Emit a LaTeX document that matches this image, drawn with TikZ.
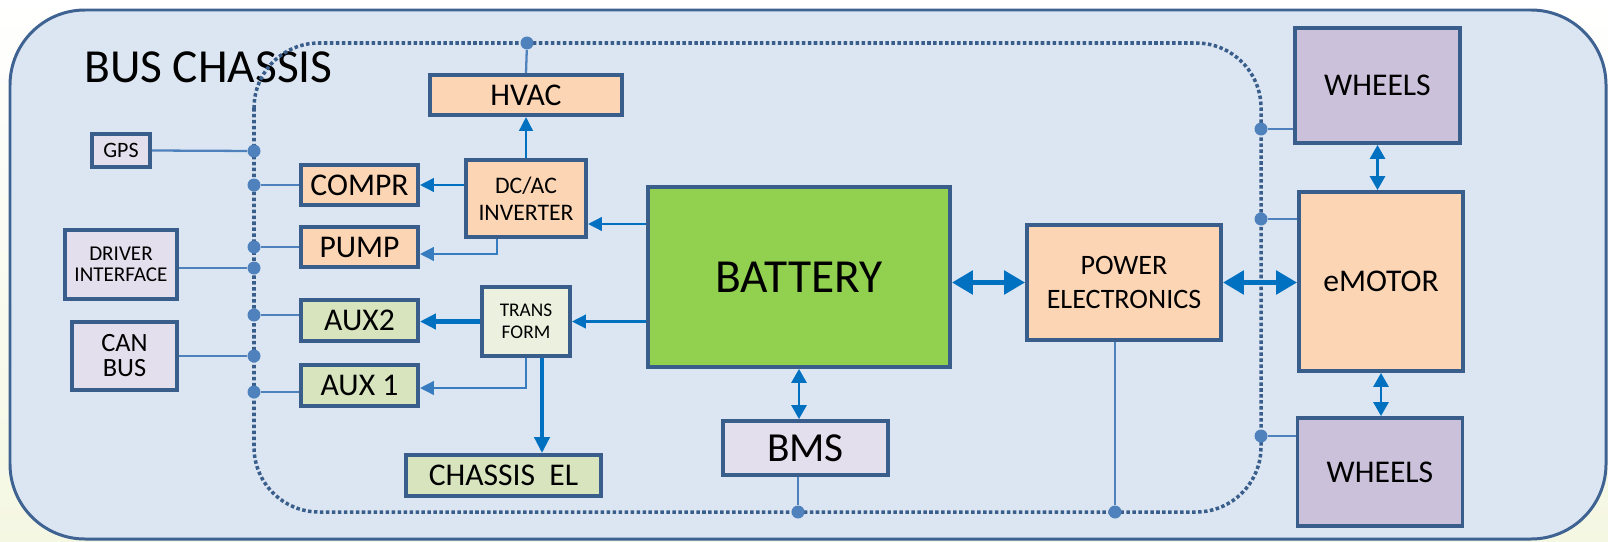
\documentclass[tikz,border=0pt]{standalone}
\usepackage{fontspec}
\setmainfont{Carlito}
\usetikzlibrary{positioning, calc, arrows.meta}
\definecolor{chassisfill}{RGB}{220,230,242}
\definecolor{chassisline}{RGB}{62,98,146}
\definecolor{boxline}{RGB}{58,94,140}
\definecolor{peach}{RGB}{252,213,181}
\definecolor{auxgreen}{RGB}{215,228,189}
\definecolor{palegreen}{RGB}{235,241,222}
\definecolor{battgreen}{RGB}{146,208,80}
\definecolor{lilac}{RGB}{228,223,236}
\definecolor{wheelpurple}{RGB}{204,193,218}
\definecolor{arrowblue}{RGB}{0,112,192}
\definecolor{tapblue}{RGB}{79,129,189}
\definecolor{cornertint}{RGB}{244,247,226}

\begin{document}
\begin{tikzpicture}[x=0.02cm, y=-0.02cm,
    blk/.style={draw=boxline, line width=2.2pt, inner sep=0pt, align=center},
    peachbox/.style={blk, fill=peach},
    greenbox/.style={blk, fill=auxgreen},
    lilacbox/.style={blk, fill=lilac},
    wheelbox/.style={blk, fill=wheelpurple, minimum width=3.3cm},
    bigtext/.style={font=\fontsize{18}{21}\selectfont},
    bus/.style={draw=boxline, line width=2pt, dash pattern=on 2pt off 1.4pt, rounded corners=1.3cm},
    link/.style={draw=tapblue, line width=1.3pt},
    tap/.style={circle, fill=tapblue, inner sep=0pt, minimum size=0.26cm},
    flow/.style={draw=arrowblue, line width=1.5pt, -{Triangle[length=0.28cm, width=0.27cm]}},
    softflow/.style={flow, draw=tapblue!70!arrowblue},
    bigflow/.style={draw=arrowblue, line width=2.3pt, -{Triangle[length=0.32cm, width=0.3cm]}},
    twoway/.style={draw=arrowblue, line width=1.6pt, {Triangle[length=0.28cm, width=0.3cm]}-{Triangle[length=0.28cm, width=0.3cm]}},
    bigtwoway/.style={draw=arrowblue, line width=3pt, {Triangle[length=0.42cm, width=0.46cm]}-{Triangle[length=0.42cm, width=0.46cm]}}]
  \useasboundingbox (0,0) rectangle (1608,541);
  \shade[top color=white, bottom color=cornertint] (0,0) rectangle (1608,541);

  % chassis
  \draw[chassisline, line width=1.7pt, fill=chassisfill, rounded corners=1.5cm] (10,10) rectangle (1606,539);
  \node[anchor=base west, font=\fontsize{27}{32}\selectfont] (title) at (78,82) {BUS CHASSIS};

  % boxes
  \node[peachbox, bigtext, minimum width=3.84cm, minimum height=0.8cm] (hvac) at (526,95) {HVAC};
  \node[lilacbox, font=\fontsize{12.5}{15}\selectfont, minimum width=1.16cm, minimum height=0.66cm] (gps) at (121,150.5) {GPS};
  \node[peachbox, bigtext, minimum width=2.34cm, minimum height=0.8cm] (compr) at (359.5,185) {COMPR};
  \node[peachbox, font=\fontsize{13.5}{15.6}\selectfont, minimum width=2.4cm, minimum height=1.54cm] (inverter) at (526,198.5) {DC/AC\\INVERTER};
  \node[peachbox, bigtext, minimum width=2.34cm, minimum height=0.8cm] (pump) at (359.5,247) {PUMP};
  \node[lilacbox, font=\fontsize{12}{12}\selectfont, minimum width=2.24cm, minimum height=1.38cm] (driver) at (121,264.5) {DRIVER\\INTERFACE};
  \node[greenbox, bigtext, minimum width=2.34cm, minimum height=0.82cm] (aux2) at (359.5,320.5) {AUX2};
  \node[blk, fill=palegreen, font=\fontsize{11}{12.5}\selectfont, minimum width=1.76cm, minimum height=1.38cm] (transform) at (526,321.5) {TRANS\\FORM};
  \node[lilacbox, font=\fontsize{15}{14.2}\selectfont, minimum width=2.1cm, minimum height=1.36cm] (canbus) at (124.5,356) {CAN\\BUS};
  \node[greenbox, bigtext, minimum width=2.34cm, minimum height=0.82cm] (aux1) at (359.5,385.5) {AUX 1};
  \node[greenbox, bigtext, minimum width=3.9cm, minimum height=0.82cm] (chassisel) at (503.5,475.5) {CHASSIS~~EL};
  \node[blk, fill=battgreen, font=\fontsize{27}{32}\selectfont, minimum width=6.04cm, minimum height=3.6cm] (battery) at (799,277) {BATTERY};
  \node[lilacbox, font=\fontsize{23.5}{28}\selectfont, minimum width=3.3cm, minimum height=1.08cm] (bms) at (805.5,448) {BMS};
  \node[peachbox, font=\fontsize{16}{19.3}\selectfont, minimum width=3.88cm, minimum height=2.3cm] (powerel) at (1124,282.5) {POWER\\ELECTRONICS};
  \node[wheelbox, bigtext, minimum height=2.3cm] (wheelstop) at (1377.5,85.5) {WHEELS};
  \node[peachbox, bigtext, minimum width=3.28cm, minimum height=3.58cm] (emotor) at (1381,281.5) {eMOTOR};
  \node[wheelbox, bigtext, minimum height=2.16cm] (wheelsbot) at (1380,472) {WHEELS};

  % bus loop and taps
  \draw[bus] (254,43) rectangle (1261,512);
  \node[tap] (t-hvac) at (527,43) {};
  \node[tap] (t-gps) at (254,151) {};
  \node[tap] (t-compr) at (254,185) {};
  \node[tap] (t-pump) at (254,247) {};
  \node[tap] (t-driver) at (254,268) {};
  \node[tap] (t-aux2) at (254,315) {};
  \node[tap] (t-can) at (254,356) {};
  \node[tap] (t-aux1) at (254,392) {};
  \node[tap] (t-bms) at (798,512) {};
  \node[tap] (t-pe) at (1115,512) {};
  \node[tap] (t-wtop) at (1261,129) {};
  \node[tap] (t-motor) at (1261,219) {};
  \node[tap] (t-wbot) at (1261,436) {};

  \draw[link] (hvac.north) -- (t-hvac);
  \draw[link] (gps.east) -- (t-gps);
  \draw[link] (compr.west) -- (t-compr);
  \draw[link] (pump.west) -- (t-pump);
  \draw[link] (t-driver -| driver.east) -- (t-driver);
  \draw[link] (t-aux2 -| aux2.west) -- (t-aux2);
  \draw[link] (t-can -| canbus.east) -- (t-can);
  \draw[link] (t-aux1 -| aux1.west) -- (t-aux1);
  \draw[link] (t-bms |- bms.south) -- (t-bms);
  \draw[link] (t-pe |- powerel.south) -- (t-pe);
  \draw[link] (t-wtop -| wheelstop.west) -- (t-wtop);
  \draw[link] (t-motor -| emotor.west) -- (t-motor);
  \draw[link] (t-wbot -| wheelsbot.west) -- (t-wbot);

  % power flow
  \coordinate (inv-in) at ([yshift=-0.51cm]inverter.east);
  \coordinate (ce-out) at ([xshift=0.32cm]transform.south);
  \draw[flow] (inverter.west |- compr.east) -- (compr.east);
  \draw[flow] (inverter.north) -- (hvac.south);
  \draw[flow] (inv-in -| battery.west) -- (inv-in);
  \draw[flow] (battery.west |- transform.east) -- (transform.east);
  \draw[softflow] ([xshift=-0.58cm]inverter.south) |- ([yshift=-0.14cm]pump.east);
  \draw[bigflow] (transform.west) -- (transform.west -| aux2.east);
  \draw[softflow] (transform.south) |- ([yshift=-0.05cm]aux1.east);
  \draw[bigflow] (ce-out) -- (ce-out |- chassisel.north);
  \draw[bigtwoway] (battery.east |- powerel.west) -- (powerel.west);
  \draw[bigtwoway] (powerel.east) -- (powerel.east -| emotor.west);
  \draw[twoway] (battery.south) -- (battery.south |- bms.north);
  \draw[twoway] (wheelstop.south) -- (wheelstop.south |- emotor.north);
  \draw[twoway] (emotor.south) -- (emotor.south |- wheelsbot.north);
\end{tikzpicture}
\end{document}
